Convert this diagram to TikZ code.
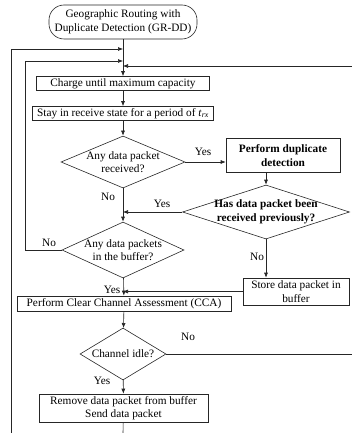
\documentclass[tikz,border=0pt]{standalone}
\usepackage{fontspec}
\setmainfont{Liberation Serif}
\usetikzlibrary{arrows.meta,shapes.geometric}
\begin{document}
\begin{tikzpicture}[x=1pt,y=-1pt,
  every node/.style={font=\fontsize{11.3}{13.5}\selectfont},
  ln/.style={line width=0.6pt, draw=black!85},
  proc/.style={ln, draw, rectangle, inner sep=0pt, align=center},
  term/.style={proc, rounded corners=15pt},
  dec/.style={ln, draw, diamond, inner sep=0pt},
  arr/.style={ln, -{Latex[length=5pt,width=4pt]}},
  plain/.style={ln},
  lbl/.style={inner sep=0pt}
]
\useasboundingbox (0,0) rectangle (351,433);

\node[term, minimum width=148pt, minimum height=34pt] (start) at (123,22) {Geographic Routing with\\Duplicate Detection (GR-DD)};
\node[proc, minimum width=173pt, minimum height=14pt] (charge) at (123,83.5) {Charge until maximum capacity};
\node[proc, minimum width=181pt, minimum height=14pt] (stay) at (123,113.5) {Stay in receive state for a period of \textit{t}\textsubscript{\textit{rx}}};
\node[dec, minimum width=124pt, minimum height=52pt, label={[align=center,inner sep=0pt]center:Any data packet\\received?}] (d1) at (123,162) {};
\node[proc, minimum width=114pt, minimum height=34pt, font=\fontsize{11.3}{13.5}\selectfont\bfseries] (dup) at (283,155.5) {Perform duplicate\\detection};
\node[dec, minimum width=167pt, minimum height=54pt, label={[align=center,inner sep=0pt,font=\fontsize{11.3}{13.5}\selectfont\bfseries]center:Has data packet been\\received previously?}] (d2) at (266,212) {};
\node[dec, minimum width=122pt, minimum height=56pt, label={[align=center,inner sep=0pt]center:Any data packets\\in the buffer?}] (d3) at (123,250) {};
\node[proc, minimum width=106pt, minimum height=27pt] (store) at (296,291.5) {Store data packet in\\buffer};
\node[proc, minimum width=214pt, minimum height=15pt] (cca) at (124,303.5) {Perform Clear Channel Assessment (CCA)};
\node[dec, minimum width=86pt, minimum height=52pt, label={[inner sep=0pt]center:Channel idle?}] (d4) at (123,354) {};
\node[proc, minimum width=169pt, minimum height=28pt] (remove) at (123.5,408) {Remove data packet from buffer\\Send data packet};

\coordinate (m1) at (123,49);
\coordinate (m2) at (123,61);
\coordinate (m3) at (123,66);
\coordinate (bot1) at (123,433);
\coordinate (bot2) at (11,433);
\coordinate (rt1) at (353,354);
\coordinate (rt2) at (353,66);

% main axis
\draw[arr] (start) -- (charge);
\draw[arr] (charge) -- (stay);
\draw[arr] (stay) -- (d1);
\draw[arr] (d1) -- (d3);
\draw[arr] (d3) -- (cca);
\draw[arr] (cca) -- (d4);
\draw[arr] (d4) -- (remove);
\draw[plain] (remove) -- (bot1);

% loops
\draw[arr] (bot2) |- (m1);
\draw[arr] (d3.west) -- (25,250) |- (m2);
\draw[arr] (d4.east) -- (rt1) -- (rt2) -- (m3);

% branches
\draw[arr] (d1.east) -- (d1.east -| dup.west);
\draw[arr] (dup.south -| d2.north) -- (d2.north);
\draw[arr] (d2.west) -- (d2.west -| d1.south);
\draw[arr] (d2.south) -- (d2.south |- store.north);
\draw[arr] (store.west) -- (store.west -| d3.south);

% labels
\node[lbl] (y1) at (203,152) {Yes};
\node[lbl] (n1) at (108,197) {No};
\node[lbl] (y2) at (162,204) {Yes};
\node[lbl] (n2) at (49,243) {No};
\node[lbl] (n3) at (257,257) {No};
\node[lbl] (y3) at (112,290) {Yes};
\node[lbl] (n4) at (188,337) {No};
\node[lbl] (y4) at (102,381) {Yes};
\end{tikzpicture}
\end{document}
